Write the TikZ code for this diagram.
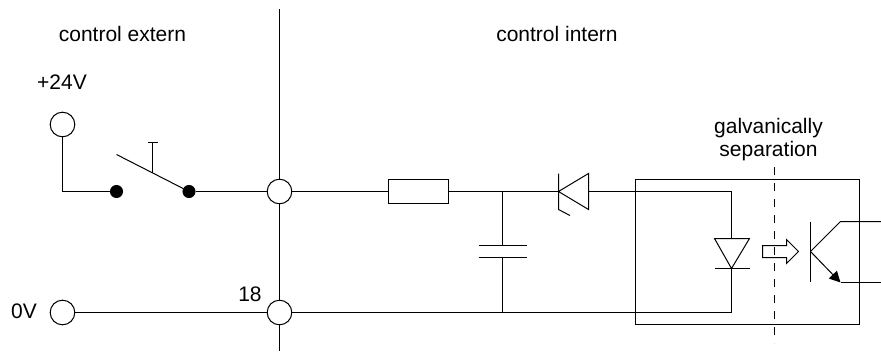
\documentclass[tikz,border=0pt]{standalone}
\usepackage{fontspec}
\setmainfont{Liberation Sans}
\usetikzlibrary{arrows.meta}
\tikzset{
    terminal/.style={draw, circle, fill=white, minimum size=24.6pt, inner sep=0pt},
    contact/.style={draw, circle, fill=black, minimum size=12pt, inner sep=0pt},
    resistor/.style={draw, fill=white, minimum width=60pt, minimum height=24pt, inner sep=0pt},
    label/.style={inner sep=0pt, font=\fontsize{21}{23}\selectfont}
}
\begin{document}
\begin{tikzpicture}[line cap=butt, line join=miter, x=1pt, y=-1pt, line width=1pt]
                \useasboundingbox (0,0) rectangle (881,351);

                \node[label] (extern) at (122.5,34) {control extern};
                \node[label] (intern) at (557,34) {control intern};
                \node[label] (supply) at (62,82) {+24V};
                \node[label] (ground) at (24,311) {0V};
                \node[label] (pin) at (250,294) {18};
                \node[label, align=center] (separation) at (768.5,140) {galvanically\\separation};

                \coordinate (bustop) at (279.5,9);
                \coordinate (busbottom) at (279.5,351);
                \coordinate (dashtop) at (774.5,167);
                \coordinate (dashbottom) at (774.5,343);
                \draw (bustop) -- (busbottom);

                \node[terminal] (plus) at (62.5,124.5) {};
                \node[terminal] (zero) at (62.5,312.5) {};
                \node[terminal] (upper) at (279.5,191.5) {};
                \node[terminal] (lower) at (279.5,312.5) {};

                \node[contact] (left) at (116.5,191.5) {};
                \node[contact] (right) at (189,191.5) {};
                \coordinate (corner) at (62.5,191.5);
                \draw (plus) -- (corner) -- (left);
                \draw (right) -- (upper);
                \draw (zero) -- (lower);

                \coordinate (lever) at (116.5,154.5);
                \coordinate (rodtop) at (152.5,142.5);
                \coordinate (rodbottom) at (152.5,172.5);
                \coordinate (capleft) at (148,142.5);
                \coordinate (capright) at (158,142.5);
                \draw (lever) -- (right);
                \draw (rodtop) -- (rodbottom);
                \draw (capleft) -- (capright);

                \node[resistor] (res) at (418.5,191.5) {};
                \coordinate (junction) at (502.5,191.5);
                \coordinate (zenertip) at (558.5,191.5);
                \coordinate (zenerback) at (588.5,191.5);
                \coordinate (inputtop) at (731.5,191.5);
                \coordinate (diodetop) at (731.5,238.5);
                \coordinate (diodetip) at (731.5,268.5);
                \coordinate (inputbottom) at (731.5,312.5);
                \coordinate (tap) at (502.5,312.5);
                \draw (upper) -- (res);
                \draw (res) -- (junction) -- (zenertip);
                \draw (zenerback) -- (inputtop) -- (diodetop);
                \draw (diodetip) -- (inputbottom) -- (lower);

                \coordinate (zenerupper) at (558.5,173.5);
                \coordinate (zenerlower) at (558.5,209.5);
                \coordinate (zenerhook) at (570,215.5);
                \coordinate (zenerbaseup) at (588.5,173.5);
                \coordinate (zenerbasedown) at (588.5,209.5);
                \draw (zenerupper) -- (zenerlower) -- (zenerhook);
                \draw (zenertip) -- (zenerbaseup) -- (zenerbasedown) -- cycle;

                \coordinate (plateup) at (502.5,245.5);
                \coordinate (platedown) at (502.5,257.5);
                \draw (junction) -- (plateup);
                \draw (platedown) -- (tap);
                \draw (478.5,245.5) -- (526.5,245.5);
                \draw (478.5,257.5) -- (526.5,257.5);

                \node[draw, minimum width=224pt, minimum height=145pt, inner sep=0pt] (coupler) at (747.5,252) {};
                \draw[dash pattern=on 8pt off 8pt] (dashtop) -- (dashbottom);

                \draw (714.5,238.5) -- (749.5,238.5) -- (diodetip) -- cycle;
                \draw (714.5,268.5) -- (749.5,268.5);

                \draw (762.5,245.5) -- (786.5,245.5) -- (786.5,239.5) -- (798.5,251.5) -- (786.5,263.5) -- (786.5,257.5) -- (762.5,257.5) -- cycle;

                \coordinate (base) at (810.5,251.5);
                \coordinate (collector) at (840.5,221.5);
                \coordinate (emitter) at (840.5,282.5);
                \coordinate (collectorout) at (881,221.5);
                \coordinate (emitterout) at (881,282.5);
                \draw (810.5,221.5) -- (810.5,282);
                \draw (base) -- (collector) -- (collectorout);
                \draw (emitter) -- (emitterout);
                \draw[-{Triangle[length=11pt, width=11pt]}] (base) -- (emitter);
\end{tikzpicture}
\end{document}
